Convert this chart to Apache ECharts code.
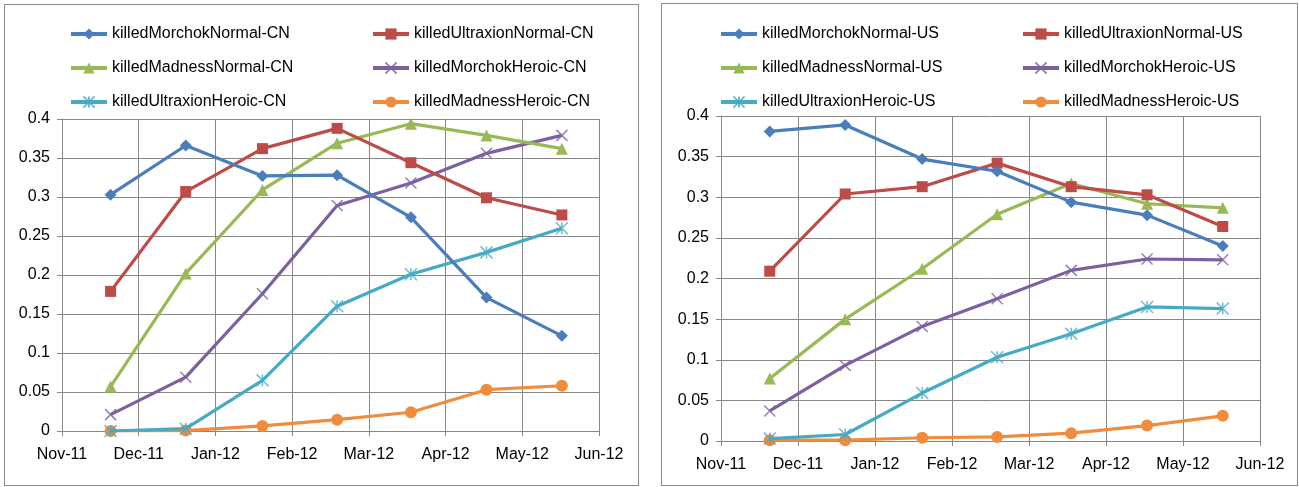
<!DOCTYPE html>
<html>
<head>
<meta charset="utf-8">
<title>killed rates CN / US</title>
<script src="https://cdn.jsdelivr.net/npm/echarts@6/dist/echarts.min.js"></script>
<style>
  body { margin: 0; background: #fff; }
  .chart-left, .chart-right { position: absolute; border: 1px solid #8c8c8c; }
  .chart-left { left: 4px; top: 4px; width: 633px; height: 480px; }
  .chart-right { left: 661px; top: 3px; width: 635px; height: 481px; }
</style>
</head>
<body>
<div class="chart-left"></div>
<div class="chart-right"></div>
<script>
// 采样日期（每月一次）
var dates = ["2011-11-20", "2011-12-20", "2012-01-20", "2012-02-18", "2012-03-18", "2012-04-17", "2012-05-17"];
var monthLabels = ["Nov-11", "Dec-11", "Jan-12", "Feb-12", "Mar-12", "Apr-12", "May-12", "Jun-12"];
var yTicks = [0, 0.05, 0.1, 0.15, 0.2, 0.25, 0.3, 0.35, 0.4];

var bosses = ["killedMorchokNormal", "killedUltraxionNormal", "killedMadnessNormal",
  "killedMorchokHeroic", "killedUltraxionHeroic", "killedMadnessHeroic"];

// CN
var cnMorchokNormal = [0.303, 0.366, 0.327, 0.328, 0.274, 0.171, 0.122];
var cnUltraxionNormal = [0.179, 0.307, 0.362, 0.388, 0.344, 0.299, 0.277];
var cnMadnessNormal = [0.057, 0.202, 0.309, 0.369, 0.394, 0.379, 0.362];
var cnMorchokHeroic = [0.021, 0.069, 0.176, 0.289, 0.318, 0.356, 0.379];
var cnUltraxionHeroic = [0, 0.003, 0.065, 0.160, 0.201, 0.229, 0.260];
var cnMadnessHeroic = [0, 0.0005, 0.0065, 0.0145, 0.024, 0.053, 0.058];

// US
var usMorchokNormal = [0.381, 0.389, 0.347, 0.332, 0.294, 0.278, 0.240];
var usUltraxionNormal = [0.209, 0.304, 0.313, 0.342, 0.313, 0.303, 0.264];
var usMadnessNormal = [0.077, 0.150, 0.212, 0.279, 0.317, 0.292, 0.287];
var usMorchokHeroic = [0.037, 0.093, 0.141, 0.175, 0.210, 0.224, 0.223];
var usUltraxionHeroic = [0.003, 0.008, 0.059, 0.103, 0.132, 0.165, 0.163];
var usMadnessHeroic = [0.001, 0.001, 0.004, 0.005, 0.0096, 0.019, 0.031];

var colors = ["#4a7ebb", "#be4b48", "#98b954", "#7d60a0", "#46aac5", "#f08c3c"];
var markers = [
  "diamond",
  "rect",
  "triangle",
  "path://M0,0L10,10M10,0L0,10",
  "path://M0,0L10,10M10,0L0,10M5,0L5,10",
  "circle"
];
var markerSize = [12, 11, 12, 11, 12, 12];

var font = "Liberation Sans";

// 日期 -> 月份刻度上的位置（Nov-11 = 0）
function monthPos(d) {
  var p = d.split("-");
  var y = +p[0], m = +p[1], day = +p[2];
  var dim = new Date(y, m, 0).getDate();
  return (y - 2011) * 12 + (m - 11) + (day - 1) / dim;
}

function makeOption(region, lists, grid, legendPos) {
  var series = lists.map(function(vals, i) {
    var isStroke = i === 3 || i === 4;
    return {
      name: bosses[i] + "-" + region,
      type: "line",
      data: vals.map(function(v, k) { return [monthPos(dates[k]), v]; }),
      symbol: markers[i],
      symbolSize: markerSize[i],
      showAllSymbol: true,
      lineStyle: { color: colors[i], width: 3.2 },
      itemStyle: isStroke
        ? { color: colors[i], borderColor: colors[i], borderWidth: 1.5, opacity: 0.8 }
        : { color: colors[i], borderWidth: 0 },
      emphasis: { disabled: true },
      z: 10 - i
    };
  });

  var legendBase = {
    orient: "vertical",
    top: legendPos.top,
    padding: 0,
    itemWidth: 36,
    itemHeight: 14,
    itemGap: legendPos.gap,
    selectedMode: false,
    lineStyle: { width: 4 },
    textStyle: { fontFamily: font, fontSize: 16, color: "#000" }
  };

  return {
    animation: false,
    legend: [
      Object.assign({}, legendBase, {
        left: legendPos.col1,
        data: [series[0].name, series[2].name, series[4].name]
      }),
      Object.assign({}, legendBase, {
        left: legendPos.col2,
        data: [series[1].name, series[3].name, series[5].name]
      })
    ],
    grid: grid,
    xAxis: {
      type: "value",
      min: 0,
      max: monthLabels.length - 1,
      interval: 1,
      axisLine: { lineStyle: { color: "#868686" } },
      axisTick: { show: true, length: 5, lineStyle: { color: "#868686" } },
      splitLine: { show: true, lineStyle: { color: "#868686" } },
      axisLabel: {
        margin: 16,
        fontFamily: font,
        fontSize: 16,
        color: "#000",
        formatter: function(v) { return monthLabels[v]; }
      }
    },
    yAxis: {
      type: "value",
      min: yTicks[0],
      max: yTicks[yTicks.length - 1],
      interval: yTicks[1] - yTicks[0],
      axisLine: { show: true, lineStyle: { color: "#868686" } },
      axisTick: { show: true, length: 5, lineStyle: { color: "#868686" } },
      splitLine: { show: true, lineStyle: { color: "#868686" } },
      axisLabel: { margin: 12, fontFamily: font, fontSize: 16, color: "#000" }
    },
    series: series
  };
}

var chartLeft = echarts.init(document.querySelector(".chart-left"));
var chartRight = echarts.init(document.querySelector(".chart-right"));

chartLeft.setOption(makeOption("CN",
  [cnMorchokNormal, cnUltraxionNormal, cnMadnessNormal, cnMorchokHeroic, cnUltraxionHeroic, cnMadnessHeroic],
  { left: 57, right: 39, top: 114, bottom: 54 },
  { col1: 64, col2: 366, top: 21, gap: 18 }));

chartRight.setOption(makeOption("US",
  [usMorchokNormal, usUltraxionNormal, usMadnessNormal, usMorchokHeroic, usUltraxionHeroic, usMadnessHeroic],
  { left: 59, right: 37, top: 112, bottom: 44 },
  { col1: 57, col2: 359, top: 22, gap: 18 }));
</script>
</body>
</html>
